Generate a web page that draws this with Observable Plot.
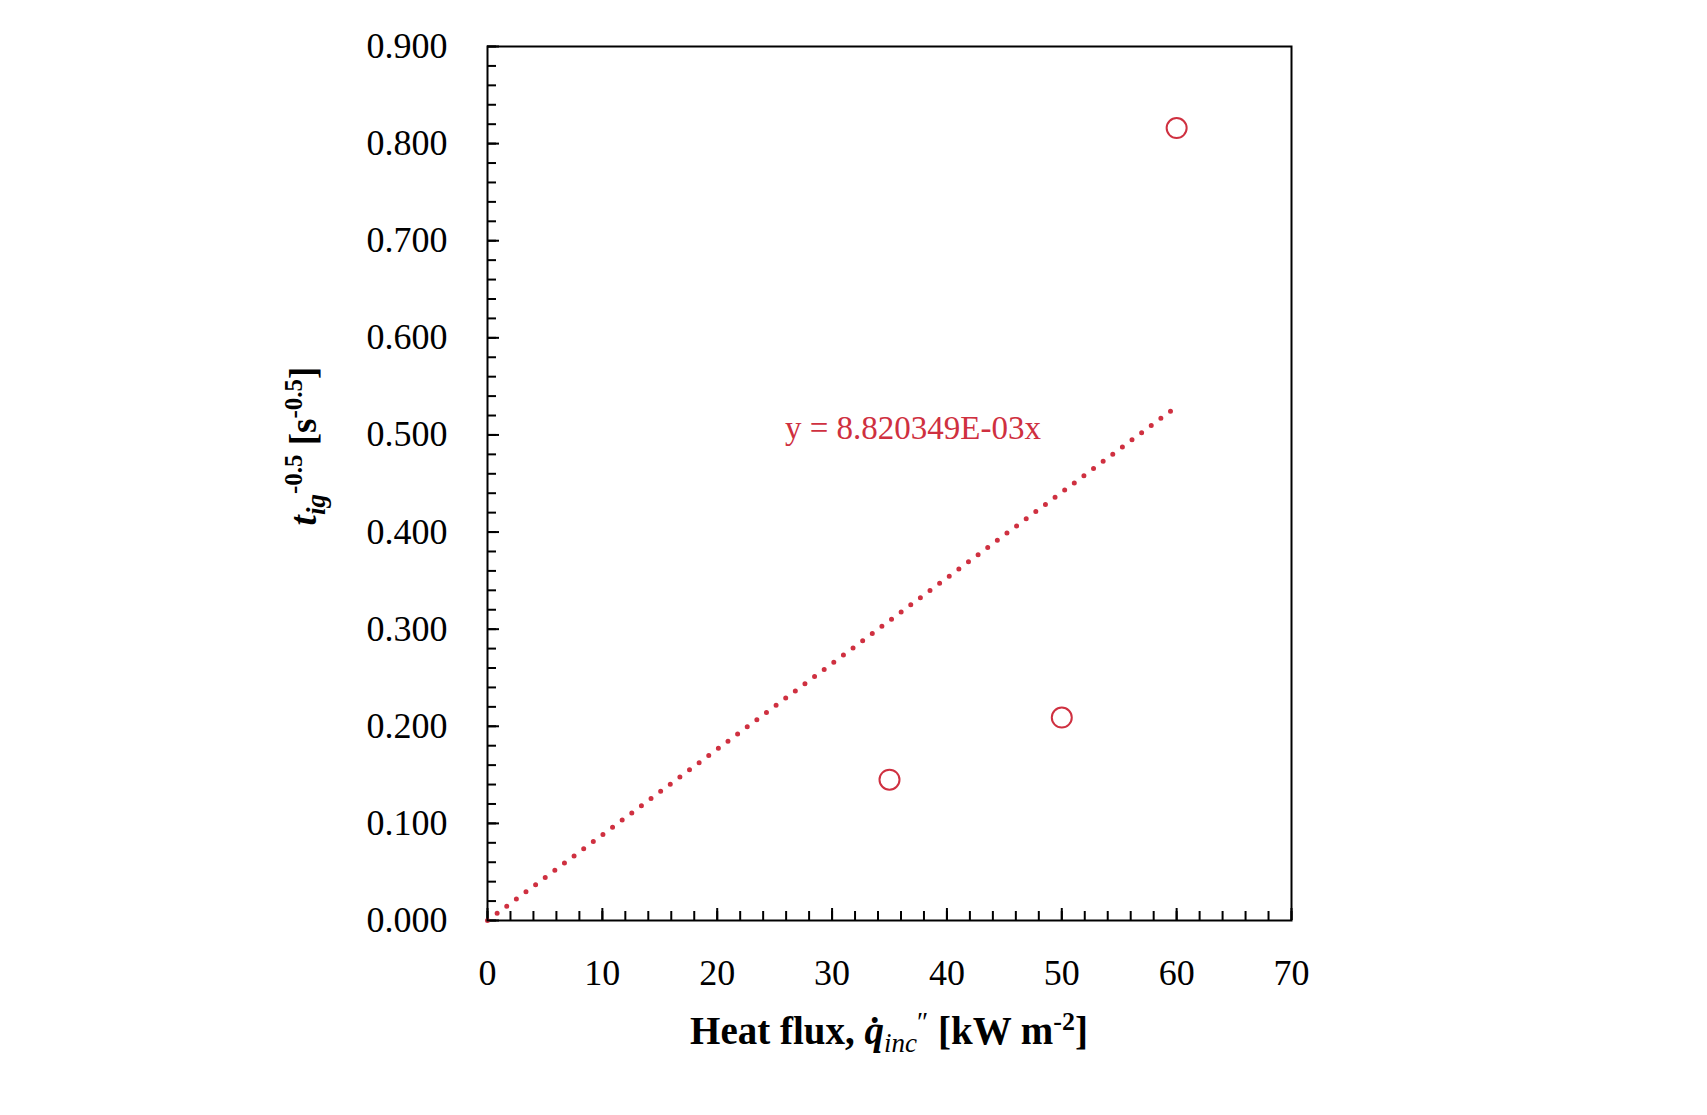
<!DOCTYPE html>
<html><head><meta charset="utf-8">
<script src="https://cdn.jsdelivr.net/npm/d3@7"></script>
<script src="https://cdn.jsdelivr.net/npm/@observablehq/plot@0.6"></script>
<style>body{margin:0;background:#fff;}</style>
</head><body><div id="chart"></div>
<script>
// ---- data ----
const heatFlux = [35, 50, 60];              // kW m-2
const tigInvSqrt = [0.145, 0.209, 0.816];   // s^-0.5
const fitSlope = 8.820349e-3;               // trendline through origin
const fitRange = [0, 60];
const equationLabel = "y = 8.820349E-03x";
const equationAt = [25.9, 0.507];
const xMajorTicks = [0, 10, 20, 30, 40, 50, 60, 70];
const xMinorTicks = d3.range(0, 36).map(i => i * 2);
const yMajorTicks = d3.range(0, 10).map(i => i / 10);
const yMinorTicks = d3.range(0, 46).map(i => +(i * 0.02).toFixed(2));
const red = "#cf3040";
const fontFam = "'Liberation Serif', 'Times New Roman', serif";

const points = heatFlux.map((x, i) => ({x, y: tigInvSqrt[i]}));
const fitLine = fitRange.map(x => ({x, y: fitSlope * x}));

const plot = Plot.plot({
  width: 1707, height: 1115,
  marginLeft: 487, marginRight: 416, marginTop: 46, marginBottom: 195,
  x: {domain: [0, 70]},
  y: {domain: [0, 0.9]},
  style: {fontFamily: fontFam, background: "white", color: "black"},
  marks: [
    Plot.axisX({ticks: xMinorTicks, tickSize: -9, tickFormat: () => "", strokeWidth: 2, label: null}),
    Plot.axisX({ticks: xMajorTicks, tickSize: -12, tickFormat: () => "", strokeWidth: 2, label: null}),
    Plot.axisX({ticks: xMajorTicks, tickSize: 0, tickPadding: 39, fontSize: 36, tickFormat: d3.format("d"), label: null}),
    Plot.axisY({ticks: yMinorTicks, tickSize: -9, tickFormat: () => "", strokeWidth: 2, label: null}),
    Plot.axisY({ticks: yMajorTicks, tickSize: -12, tickFormat: () => "", strokeWidth: 2, label: null}),
    Plot.axisY({ticks: yMajorTicks, tickSize: 0, tickPadding: 40, fontSize: 36, tickFormat: d3.format(".3f"), label: null}),
    Plot.line(fitLine, {x: "x", y: "y", stroke: red, strokeWidth: 5, strokeDasharray: "0 12", strokeLinecap: "round"}),
    Plot.dot(points, {x: "x", y: "y", r: 10, stroke: red, strokeWidth: 2, fill: "none"}),
    Plot.text([equationLabel], {x: equationAt[0], y: equationAt[1], text: d => d, textAnchor: "start", fill: red, fontSize: 33}),
    Plot.frame({stroke: "black", strokeWidth: 2})
  ]
});

// ---- rich-text axis titles ----
const svg = d3.select(plot);
const xs = plot.scale("x");
const cx = (xs.apply(0) + xs.apply(70)) / 2;

const xt = svg.append("text")
  .attr("x", cx).attr("y", 1044)
  .attr("text-anchor", "middle")
  .attr("font-family", fontFam).attr("font-size", 39).attr("font-weight", "bold").attr("fill", "black");
xt.append("tspan").text("Heat flux, ");
xt.append("tspan").attr("font-style", "italic").text("q\u0307");
xt.append("tspan").attr("font-style", "italic").attr("font-weight", "normal").attr("font-size", 27).attr("dy", 8).text("inc");
xt.append("tspan").attr("font-weight", "normal").attr("font-size", 27).attr("dy", -21).text("\u2033");
xt.append("tspan").attr("dy", 13).text(" [kW m");
xt.append("tspan").attr("font-size", 26).attr("dy", -14).text("-2");
xt.append("tspan").attr("dy", 14).text("]");

const yt = svg.append("text")
  .attr("transform", `translate(316,446) rotate(-90)`)
  .attr("text-anchor", "middle")
  .attr("font-family", fontFam).attr("font-size", 37).attr("font-weight", "bold").attr("fill", "black");
yt.append("tspan").attr("font-style", "italic").text("t");
yt.append("tspan").attr("font-style", "italic").attr("font-size", 27).attr("dy", 9).text("ig");
yt.append("tspan").attr("font-size", 25).attr("dy", -23).text("-0.5");
yt.append("tspan").attr("dy", 14).text(" [s");
yt.append("tspan").attr("font-size", 25).attr("dy", -14).text("-0.5");
yt.append("tspan").attr("dy", 14).text("]");

document.getElementById("chart").appendChild(plot);
</script>
</body></html>
